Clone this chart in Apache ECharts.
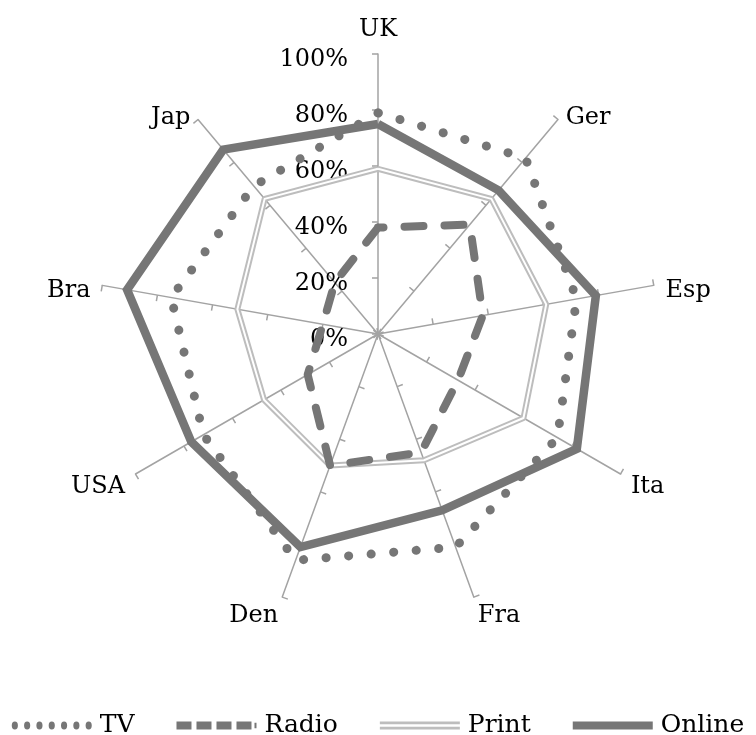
<!DOCTYPE html>
<html lang="en" style="height: 100%">
<head>
  <meta charset="utf-8">
</head>
<body style="height: 100%; margin: 0; background: #fff">
  <div id="container" style="width: 756px; height: 735px"></div>

  <script type="text/javascript" src="https://cdn.jsdelivr.net/npm/echarts@6/dist/echarts.min.js"></script>
  <script type="text/javascript">
    // categories in drawing order (radar runs counter-clockwise from the top)
    var countries = ['UK', 'Jap', 'Bra', 'USA', 'Den', 'Fra', 'Ita', 'Esp', 'Ger'];
    var tvValues     = [79, 69, 75, 72, 86, 81, 74, 72, 82];
    var radioValues  = [38, 24, 20, 29, 50, 45, 33, 38, 51];
    var printValues  = [59, 63, 51, 47, 50, 48, 60, 61, 63];
    var onlineValues = [75, 86, 91, 77, 81, 67, 82, 79, 67];
    var tickValues = [0, 20, 40, 60, 80, 100];

    var font = 'DejaVu Serif';
    var gray = '#767676';
    var lightGray = '#bdbdbd';
    var axisGray = '#a3a3a3';

    var dom = document.getElementById('container');
    var myChart = echarts.init(dom, null, { renderer: 'canvas' });

    var option = {
      animation: false,
      backgroundColor: '#fff',
      legend: {
        top: 708,
        left: 'center',
        itemWidth: 80,
        itemHeight: 8,
        itemGap: 42,
        symbolKeepAspect: false,
        textStyle: { fontFamily: font, fontSize: 25, color: '#000', padding: [0, 0, 0, 3] },
        data: [
          { name: 'TV', icon: 'path://M1,4a3,3 0 1,0 6,0a3,3 0 1,0 -6,0M13,4a3,3 0 1,0 6,0a3,3 0 1,0 -6,0M25,4a3,3 0 1,0 6,0a3,3 0 1,0 -6,0M37,4a3,3 0 1,0 6,0a3,3 0 1,0 -6,0M49,4a3,3 0 1,0 6,0a3,3 0 1,0 -6,0M61,4a3,3 0 1,0 6,0a3,3 0 1,0 -6,0M73,4a3,3 0 1,0 6,0a3,3 0 1,0 -6,0' },
          { name: 'Radio', icon: 'path://M0,1h15v6h-15ZM20,1h15v6h-15ZM40,1h15v6h-15ZM60,1h15v6h-15ZM78,2h2v4h-2Z' },
          { name: 'Print', icon: 'path://M0,0.5h80v2.5h-80ZM0,5h80v2.5h-80Z' },
          { name: 'Online', icon: 'path://M0,1h80v6h-80Z' }
        ]
      },
      radar: {
        center: [378, 334],
        radius: 280,
        startAngle: 90,
        shape: 'polygon',
        splitNumber: 5,
        indicator: countries.map(function (c) { return { name: c, max: 100, min: 0 }; }),
        axisName: {
          formatter: function (name) { return '{n|' + name + '}'; },
          rich: { n: { color: '#000', fontFamily: font, fontSize: 24, padding: [14, 0, 0, 0] } }
        },
        nameGap: 12,
        axisLine: { lineStyle: { color: axisGray, width: 1.5 } },
        axisTick: { show: true, length: 6, lineStyle: { color: axisGray, width: 1.5 } },
        splitLine: { show: false },
        splitArea: { show: false }
      },
      polar: { center: [378, 334], radius: 280 },
      angleAxis: { type: 'value', show: false, startAngle: 90, min: 0, max: 360 },
      radiusAxis: {
        type: 'value',
        min: 0,
        max: 100,
        interval: 20,
        axisLine: { show: false },
        axisTick: { show: false },
        splitLine: { show: false },
        axisLabel: {
          formatter: function (v) { return tickValues.indexOf(v) >= 0 ? '{t|' + v + '%}' : ''; },
          margin: 30,
          rich: { t: { fontFamily: font, fontSize: 24, color: '#000', padding: [12, 0, 0, 0] } }
        }
      },
      series: [
        {
          name: 'Print', type: 'radar', symbol: 'none', z: 2,
          itemStyle: { color: lightGray },
          lineStyle: { color: lightGray, width: 6 },
          data: [{ name: 'Print', value: printValues }]
        },
        {
          name: 'PrintInner', type: 'radar', symbol: 'none', z: 3, silent: true,
          lineStyle: { color: '#fff', width: 2 },
          data: [{ name: 'PrintInner', value: printValues }]
        },
        {
          name: 'Radio', type: 'radar', symbol: 'none', z: 4,
          itemStyle: { color: gray },
          lineStyle: { color: gray, width: 8, type: [19, 21], cap: 'round' },
          data: [{ name: 'Radio', value: radioValues }]
        },
        {
          name: 'Online', type: 'radar', symbol: 'none', z: 5,
          itemStyle: { color: gray },
          lineStyle: { color: gray, width: 8.5, join: 'miter' },
          data: [{ name: 'Online', value: onlineValues }]
        },
        {
          name: 'TV', type: 'radar', symbol: 'none', z: 6,
          itemStyle: { color: gray },
          lineStyle: { color: gray, width: 9, type: [0.1, 22.5], cap: 'round' },
          data: [{ name: 'TV', value: tvValues }]
        }
      ]
    };

    myChart.setOption(option);
    window.addEventListener('resize', myChart.resize);
  </script>
</body>
</html>
